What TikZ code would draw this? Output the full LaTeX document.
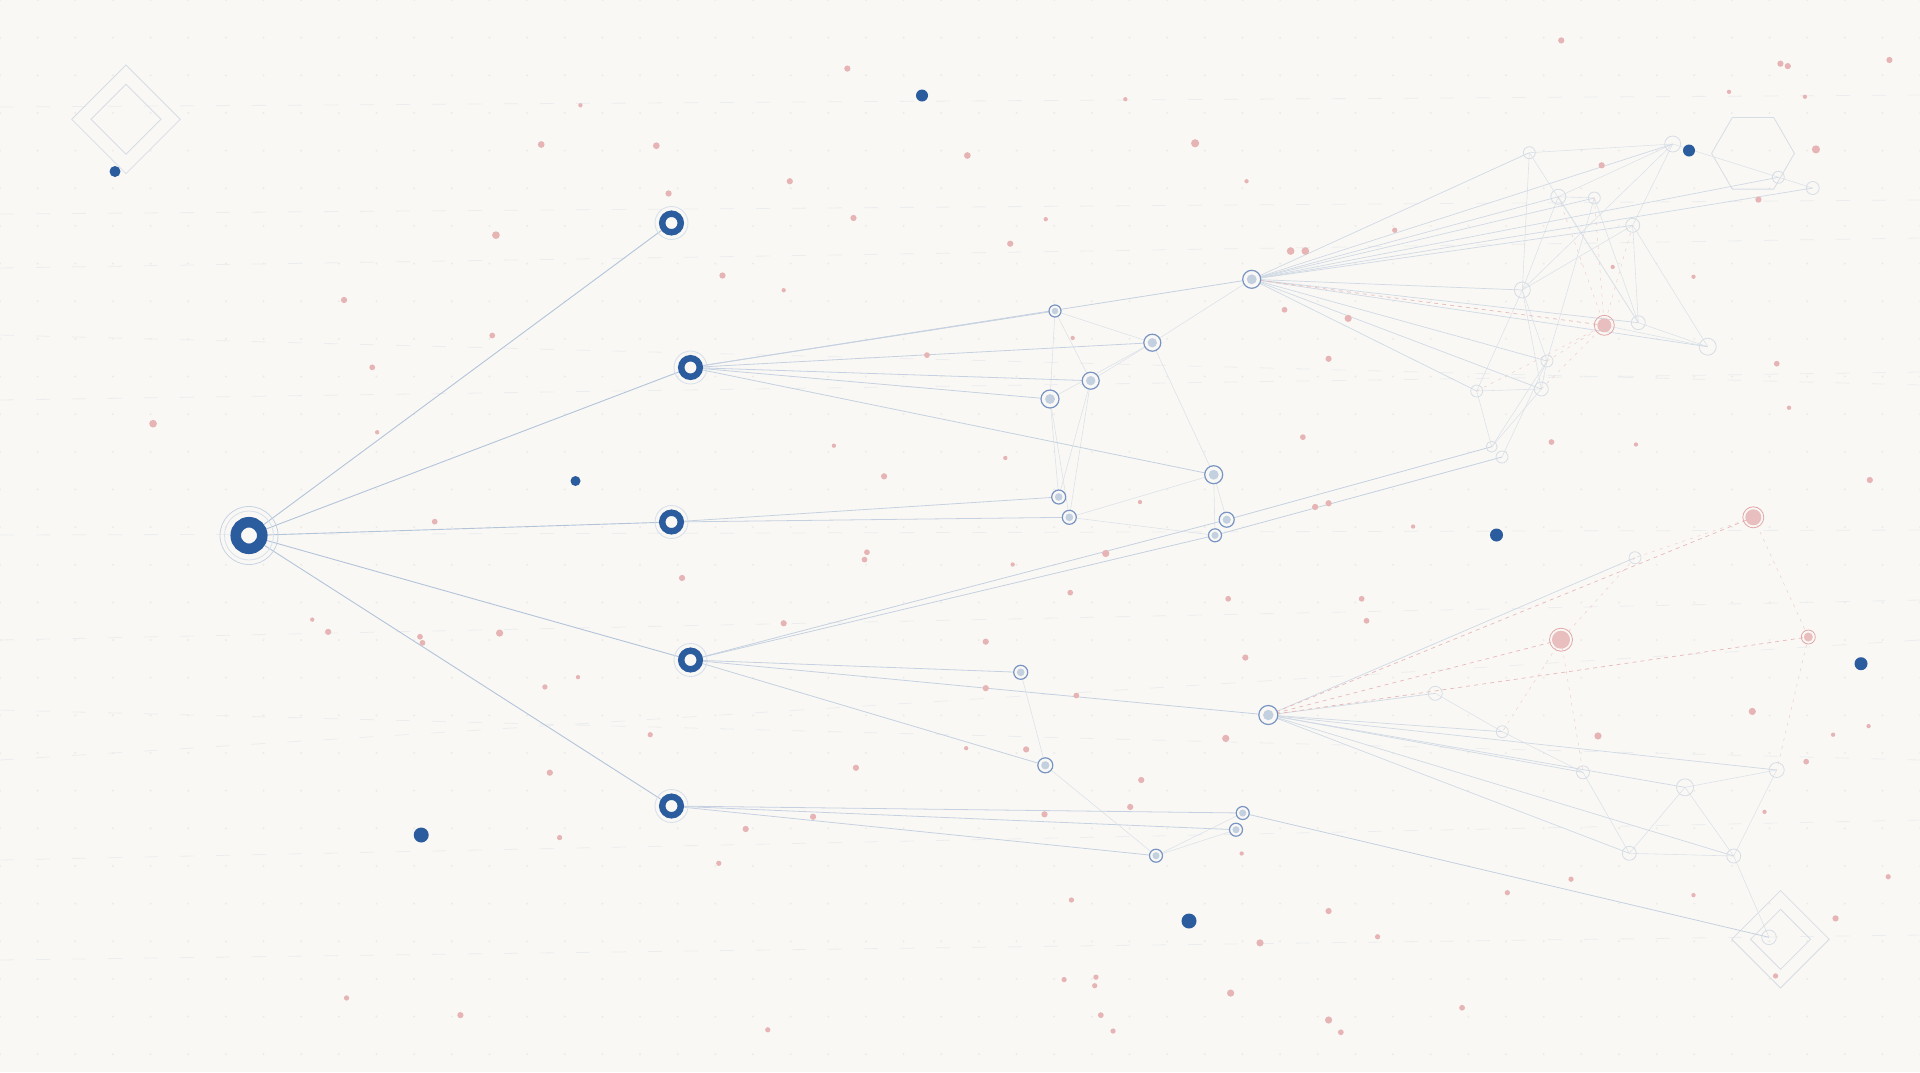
\documentclass[tikz,border=0pt]{standalone}
\usetikzlibrary{shapes.geometric}
\definecolor{bg}{HTML}{F9F8F5}
\definecolor{nblue}{HTML}{2A5C9E}
\definecolor{halo}{HTML}{C6D3E3}
\definecolor{haloB}{HTML}{D6DFE9}
\definecolor{edgeA}{HTML}{B3C4D9}
\definecolor{edgeB}{HTML}{C5D1E0}
\definecolor{edgeC}{HTML}{D0D9E4}
\definecolor{edgeD}{HTML}{DDE3E9}
\definecolor{ringB}{HTML}{7894C2}
\definecolor{fillB}{HTML}{C3D0DF}
\definecolor{ringC}{HTML}{D7DDE5}
\definecolor{pinkF}{HTML}{E8BFBE}
\definecolor{pinkR}{HTML}{E3A7A7}
\definecolor{pinkD}{HTML}{E6B4B4}
\definecolor{pinkL}{HTML}{E8B9B9}
\definecolor{gridD}{HTML}{ECEBE8}
\definecolor{bgline}{HTML}{ECEDEF}
\begin{document}
\begin{tikzpicture}[x=1pt,y=-1pt,
  rootnode/.style={circle, draw=nblue, line width=10.5pt, minimum size=26.6pt, inner sep=0pt, fill=bg},
  lonenode/.style={circle, draw=nblue, line width=6.4pt, minimum size=18.6pt, inner sep=0pt, fill=bg},
  rootedge/.style={draw=edgeA, line width=0.9pt},
  ltwoedge/.style={draw=edgeB, line width=0.8pt},
  fanedge/.style={draw=edgeC, line width=0.7pt},
  meshedge/.style={draw=edgeD, line width=0.6pt},
  pinkdash/.style={draw=pinkL, line width=0.7pt, dash pattern=on 4pt off 4pt},
  pinkdot/.style={draw=pinkL!70, line width=0.5pt, dash pattern=on 3pt off 5pt},
  bgdash/.style={draw=bgline, line width=0.8pt, dash pattern=on 14pt off 22pt},
  shapeline/.style={draw=ringC, line width=0.8pt}
]
\useasboundingbox[fill=bg] (0,0) rectangle (1920,1072);

% grid of faint dots
\foreach \i in {0,...,51}{
  \foreach \j in {0,...,28}{
    \fill[gridD] (\i*37.65,\j*37.65) circle (1.1);
  }
}
% faint background dashed lines
\draw[bgdash] (0,107) -- (1920,95);
\draw[bgdash] (0,214) -- (1920,200);
\draw[bgdash] (0,268) -- (1920,238);
\draw[bgdash] (0,335) -- (1920,385);
\draw[bgdash] (0,400) -- (1920,372);
\draw[bgdash] (0,535) -- (1920,530);
\draw[bgdash] (0,640) -- (1920,600);
\draw[bgdash] (0,710) -- (1920,760);
\draw[bgdash] (0,760) -- (1920,640);
\draw[bgdash] (0,860) -- (1920,820);
\draw[bgdash] (0,960) -- (1920,935);

% decorative shapes
\draw[shapeline] (126,65) -- (180.3,119.3) -- (126,173.6) -- (71.7,119.3) -- cycle;
\draw[shapeline] (126,84.3) -- (161,119.3) -- (126,154.3) -- (91,119.3) -- cycle;
\draw[shapeline] (1794.4,153.3) -- (1773.7,117.5) -- (1732.3,117.5) -- (1711.6,153.3) -- (1732.3,189.1) -- (1773.7,189.1) -- cycle;
\draw[shapeline] (1780.5,890.6) -- (1829.2,939.3) -- (1780.5,988) -- (1731.8,939.3) -- cycle;
\draw[shapeline] (1780.5,909.3) -- (1810.5,939.3) -- (1780.5,969.3) -- (1750.5,939.3) -- cycle;

% coordinates
\coordinate (R) at (249,535.5);
\coordinate (A1) at (671.5,223);
\coordinate (A2) at (690.5,367.5);
\coordinate (A3) at (671.5,522);
\coordinate (A4) at (690.5,660);
\coordinate (A5) at (671.5,806);
\foreach \n/\x/\y in {B1/1055/311, B2/1152.3/342.7, B3/1090.7/380.7, B4/1050/399, B5/1213.7/474.7,
  B6/1058.7/497, B7/1069.3/517.3, B8/1226.7/519.7, B9/1215/535.3, H1/1251.7/279.3,
  C1/1020.7/672.3, H2/1268.3/715, C2/1045.3/765.3, C3/1242.7/813, C4/1236/829.7, C5/1156/855.7,
  U1/1529.3/152.7, U2/1672.7/144, U3/1778.3/177.3, U4/1812.7/188, U5/1558.3/196.7, U6/1594.3/198,
  U7/1632.7/225.3, U8/1522.3/290, P1/1604.3/325.3, U9/1638.3/322.7, U10/1707.7/346.7,
  U11/1547/361, U12/1476.7/391, U13/1541.3/389, U14/1491.7/446.7, U15/1502/457,
  P2/1753.3/517.3, V1/1635/557.7, P3/1561/639.7, P4/1808.3/637, V2/1435.3/693.3,
  V3/1502.3/731.7, V4/1583/772.3, V5/1685/787.3, V6/1776.7/770, V7/1629.3/853.3,
  V8/1733.7/856, D1/1769/937.3}{
  \coordinate (\n) at (\x,\y);
}

% mesh edges (faintest)
\foreach \a/\b in {B1/B2, B1/B4, B1/B3, B2/H1, B2/B3, B2/B4, B2/B5, B3/B6, B3/B7, B4/B6, B4/B7,
  B5/B8, B5/B9, B7/B5, B7/B9, C1/C2, C2/C5, C5/C3, C5/C4,
  U1/U2, U1/U8, U1/U9, U2/U5, U2/U8, U2/U7, U2/U4, U5/U6, U5/U8, U5/U9, U6/U9, U6/U11,
  U7/U9, U7/U10, U7/U8, U8/U11, U8/U13, U8/U12, U9/U10, P1/U10, U11/U13, U13/U12,
  U12/U14, U11/U15, U13/U14, U11/U14,
  V2/V3, V3/V4, V4/V7, V7/V5, V5/V8, V5/V6, V6/V8, V7/V8, V8/D1}{
  \draw[meshedge] (\a) -- (\b);
}
\foreach \a/\b in {V1/P3, P3/V3, P3/V4, P2/P4, P4/V6, P2/V1}{
  \draw[pinkdot] (\a) -- (\b);
}
\foreach \a in {U5, U6, U7, U11, U12, U13}{
  \draw[pinkdot] (\a) -- (P1);
}
% hub fans
\foreach \b in {U1, U2, U3, U4, U5, U6, U7, U8, U9, U10, U11, U13, U12}{
  \draw[fanedge] (H1) -- (\b);
}
\draw[pinkdash] (H1) -- (P1);
\foreach \b in {V1, V2, V3, V4, V5, V6, V7, V8}{
  \draw[fanedge] (H2) -- (\b);
}
\foreach \b in {P2, P3, P4}{
  \draw[pinkdash] (H2) -- (\b);
}
% level-1 to level-2 edges
\foreach \a/\b in {A2/B1, A2/H1, A2/B2, A2/B3, A2/B4, A2/B5, A3/B6, A3/B7,
  A4/B8, A4/B9, A4/C1, A4/H2, A4/C2, A5/C3, A5/C4, A5/C5, B8/U14, B9/U15, C3/D1}{
  \draw[ltwoedge] (\a) -- (\b);
}
% root edges
\foreach \b in {A1, A2, A3, A4, A5}{
  \draw[rootedge] (R) -- (\b);
}

% level-3 hollow nodes
\foreach \n/\r in {U1/6, U2/8, U3/6, U4/6.5, U5/7.5, U6/6, U7/7, U8/8, U9/7, U10/8.5,
  U11/6, U12/6, U13/7, U14/5.5, U15/6, V1/6, V2/7, V3/6, V4/6.5, V5/8.5, V6/7.5, V7/7, V8/7, D1/7.3}{
  \draw[draw=ringC, line width=0.8pt] (\n) circle (\r);
}
% pink nodes
\foreach \n/\f/\r in {P1/7/10, P2/8/10.5, P3/9/11.5, P4/4.5/7}{
  \fill[pinkF] (\n) circle (\f);
  \draw[draw=pinkR, line width=0.8pt] (\n) circle (\r);
}
% level-2 nodes
\foreach \n/\r in {B1/6, B2/8.5, B3/8.5, B4/9, B5/9, B6/7, B7/7, B8/7.5, B9/6.5, H1/9,
  C1/7, H2/9.5, C2/7.5, C3/6.5, C4/6.5, C5/6.5}{
  \fill[bg] (\n) circle (\r);
  \draw[draw=ringB, line width=1.2pt] (\n) circle (\r);
  \fill[fillB] (\n) circle (\r*0.55);
}
% level-1 nodes
\foreach \n in {A1, A2, A3, A4, A5}{
  \draw[draw=haloB, line width=0.8pt] (\n) circle (16.5);
  \node[lonenode] (N\n) at (\n) {};
}
% root node
\draw[draw=halo, line width=0.8pt] (R) circle (29);
\draw[draw=halo!70, line width=0.8pt] (R) circle (24.5);
\node[rootnode] (NR) at (R) {};

% blue dots
\foreach \x/\y/\r in {922/95.5/6, 115/171.5/5.5, 575.5/481/5, 1496.5/535/6.5, 1689/150.5/6,
  1861/663.7/6.5, 421.2/835/7.5, 1189/921/7.5}{
  \fill[nblue] (\x,\y) circle (\r);
}

% pink dots (positions in reduced coordinates)
\begin{scope}[x=1.2245pt,y=-1.2245pt]
\foreach \x/\y/\r in {692/56/2.6, 474/86/1.8, 919/81/1.8, 1275/33/2.6, 1454/52/2.6, 1460/54/2.6,
  1543/49/2.6, 1474/79/1.8, 1412/75/1.8, 442/118/2.8, 536/119/2.8, 790/127/2.8, 976/117/3.4,
  1483/122/3.4, 645/148/2.6, 546/158/2.6, 697/178/2.6, 854/179/1.8, 825/199/2.6, 1018/148/1.8,
  1054/205/3.2, 1066/205/3.2, 1139/188/2.2, 1308/135/2.6, 1436/163/2.6, 405/192/3.2, 590/225/2.6,
  640/237/1.8, 281/245/2.6, 1383/226/1.8, 1101/260/3, 1049/253/2.4, 1317/218/1.8, 1085/293/2.6,
  1451/297/2.4, 304/300/2.4, 402/274/2.4, 876/276/1.8, 757/290/2.4, 1461/333/1.8, 125/346/3.2,
  308/353/1.8, 681/364/1.8, 821/374/1.8, 1064/357/2.4, 1267/361/2.4, 1336/363/1.8, 1527/392/2.6,
  722/389/2.6, 931/410/1.8, 1074/414/2.6, 1085/411/2.6, 1154/430/1.8, 355/426/2.4, 708/451/2.4,
  706/457/2.4, 903/452/3, 827/461/1.8, 557/472/2.6, 874/484/2.4, 1003/489/2.4, 1112/489/2.4,
  1116/507/2.4, 255/506/1.8, 268/516/2.6, 408/517/3, 343/520/2.4, 345/525/2.4, 640/509/2.6,
  805/524/2.6, 1017/537/2.6, 472/553/1.8, 445/561/2.2, 805/562/2.6, 879/568/2.4, 1431/581/3,
  1305/601/3, 1001/603/3, 531/600/2.2, 789/611/1.8, 838/612/2.6, 449/631/2.6, 699/627/2.6,
  932/637/2.6, 1475/622/2.4, 1497/600/1.8, 1526/593/1.8, 853/665/2.6, 664/667/2.6, 609/677/2.6,
  923/659/2.6, 1441/663/1.8, 457/684/2.2, 1014/697/1.8, 587/705/2.2, 1542/716/2.2, 1283/718/2.2,
  1231/729/2.2, 1383/731/1.8, 875/735/2.2, 1085/744/2.6, 1125/765/2.2, 1499/750/2.6, 1029/770/3,
  1450/797/2.2, 1005/811/3, 869/800/2.2, 895/798/2.2, 894/805/2.2, 1085/833/3, 1095/843/2.4,
  1194/823/2.4, 899/829/2.4, 909/842/2.2, 283/815/2.2, 376/829/2.6, 627/841/2.2}{
  \fill[pinkD] (\x,\y) circle (\r*1.2pt);
}
\end{scope}
\end{tikzpicture}
\end{document}
